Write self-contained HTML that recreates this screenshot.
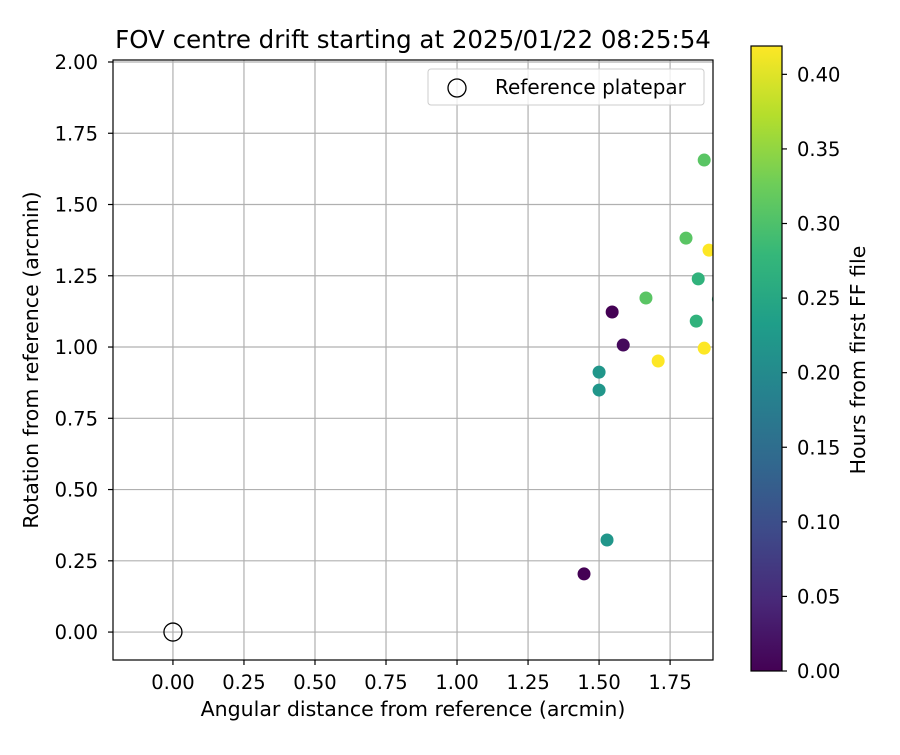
<!DOCTYPE html>
<html><head><meta charset="utf-8"><style>
body{margin:0;background:#fff;font-family:"Liberation Sans","DejaVu Sans",sans-serif}
text{font-family:"DejaVu Sans","Liberation Sans",sans-serif}
</style></head><body>
<svg id="c" width="900" height="750" xmlns="http://www.w3.org/2000/svg"></svg>
<script>
const xs=[1.870,1.806,1.887,1.849,1.920,1.665,1.546,1.842,1.585,1.870,1.708,1.500,1.500,1.528,1.447];
const ys=[1.656,1.382,1.340,1.239,1.168,1.172,1.123,1.091,1.007,0.996,0.951,0.912,0.849,0.323,0.204];
const hours=[0.31,0.31,0.42,0.27,0.26,0.31,0.0,0.27,0.01,0.42,0.42,0.22,0.22,0.22,0.0];
const xTicks=[0,0.25,0.5,0.75,1.0,1.25,1.5,1.75];
const yTicks=[0,0.25,0.5,0.75,1.0,1.25,1.5,1.75,2.0];
const cTicks=[0,0.05,0.1,0.15,0.2,0.25,0.3,0.35,0.4];
const L=113,R=713,T=60,B=660;
const xmin=-0.211,xmax=1.901,ymin=-0.098,ymax=2.007;
const cmax=0.419;
const X=v=>L+(v-xmin)/(xmax-xmin)*(R-L);
const Y=v=>B-(v-ymin)/(ymax-ymin)*(B-T);
const CB={x:751,w:31,t:46,b:671};
const CY=v=>CB.b-v/cmax*(CB.b-CB.t);
const vir=[[68,1,84],[72,40,120],[62,74,137],[49,104,142],[38,130,142],[31,158,137],[53,183,121],[109,205,89],[180,222,44],[253,231,37]];
function cmap(t){t=Math.max(0,Math.min(1,t))*(vir.length-1);const i=Math.min(Math.floor(t),vir.length-2),f=t-i;const c=vir[i].map((a,k)=>Math.round(a+(vir[i+1][k]-a)*f));return `rgb(${c})`;}
const svg=document.getElementById('c');const NS='http://www.w3.org/2000/svg';
function el(tag,at,txt){const e=document.createElementNS(NS,tag);for(const k in at)e.setAttribute(k,at[k]);if(txt!==undefined)e.textContent=txt;svg.appendChild(e);return e;}
let d=el('defs',{});const cp=document.createElementNS(NS,'clipPath');cp.setAttribute('id','clip');const cr=document.createElementNS(NS,'rect');
cr.setAttribute('x',L);cr.setAttribute('y',T);cr.setAttribute('width',R-L);cr.setAttribute('height',B-T);cp.appendChild(cr);d.appendChild(cp);
const gr=document.createElementNS(NS,'linearGradient');gr.setAttribute('id','vg');gr.setAttribute('x1','0');gr.setAttribute('y1','1');gr.setAttribute('x2','0');gr.setAttribute('y2','0');
vir.forEach((c,i)=>{const s=document.createElementNS(NS,'stop');s.setAttribute('offset',i/(vir.length-1));s.setAttribute('stop-color',`rgb(${c})`);gr.appendChild(s);});d.appendChild(gr);
xTicks.forEach(v=>{let g=el('line',{x1:X(v),x2:X(v),y1:T,y2:B,stroke:'#b0b0b0','stroke-width':1.2});
el('line',{x1:X(v),x2:X(v),y1:B,y2:B+5,stroke:'#000','stroke-width':1.2});
let t=el('text',{x:X(v),y:689,'text-anchor':'middle','font-size':19.5},v.toFixed(2));});
yTicks.forEach(v=>{let g=el('line',{x1:L,x2:R,y1:Y(v),y2:Y(v),stroke:'#b0b0b0','stroke-width':1.2});
el('line',{x1:L-5,x2:L,y1:Y(v),y2:Y(v),stroke:'#000','stroke-width':1.2});
let t=el('text',{x:L-15,y:Y(v)+7,'text-anchor':'end','font-size':19.5},v.toFixed(2));});
xs.forEach((v,i)=>{let c=el('circle',{cx:X(v),cy:Y(ys[i]),r:6.5,fill:cmap(hours[i]/cmax),'clip-path':'url(#clip)'});
});
let ref=el('circle',{cx:X(0),cy:Y(0),r:9,fill:'none',stroke:'#000','stroke-width':1.3});
let fr=el('rect',{x:L,y:T,width:R-L,height:B-T,fill:'none',stroke:'#000','stroke-width':1.2});
let lg=el('rect',{x:428,y:69,width:276,height:36,rx:3,fill:'#fff','fill-opacity':0.8,stroke:'#ccc'});
el('circle',{cx:457,cy:88,r:9,fill:'none',stroke:'#000','stroke-width':1.3});
let lt=el('text',{x:495,y:94,'font-size':20},'Reference platepar');
let ti=el('text',{x:413,y:48,'text-anchor':'middle','font-size':24.5},'FOV centre drift starting at 2025/01/22 08:25:54');
let xt=el('text',{x:413,y:716,'text-anchor':'middle','font-size':20.5},'Angular distance from reference (arcmin)');
let yt=el('text',{x:38,y:360,'text-anchor':'middle','font-size':20.5,transform:'rotate(-90 38 360)'},'Rotation from reference (arcmin)');
let cb=el('rect',{x:CB.x,y:CB.t,width:CB.w,height:CB.b-CB.t,fill:'url(#vg)',stroke:'#000','stroke-width':1.2});
cTicks.forEach(v=>{el('line',{x1:CB.x+CB.w,x2:CB.x+CB.w+5,y1:CY(v),y2:CY(v),stroke:'#000','stroke-width':1.2});
let t=el('text',{x:CB.x+CB.w+15,y:CY(v)+7,'font-size':19.5},v.toFixed(2));});
let ct=el('text',{x:865,y:360,'text-anchor':'middle','font-size':20.5,transform:'rotate(-90 865 360)'},'Hours from first FF file');
</script></body></html>
